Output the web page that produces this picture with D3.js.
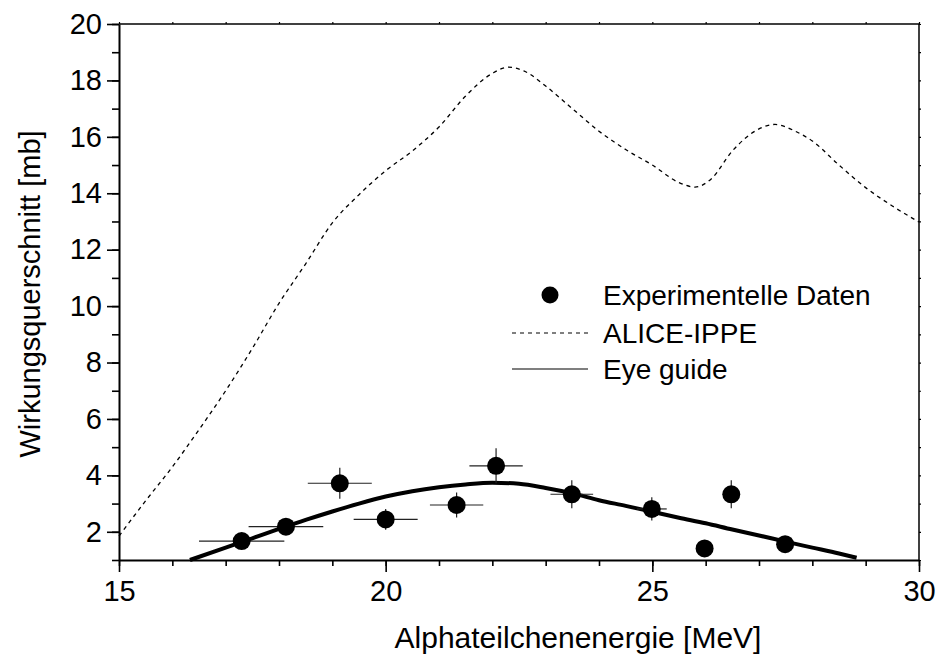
<!DOCTYPE html>
<html>
<head>
<meta charset="utf-8">
<script src="https://cdn.jsdelivr.net/npm/d3@7"></script>
<style>
  html, body { margin: 0; padding: 0; background: #fff; }
  svg { display: block; font-family: "Liberation Sans", Arial, sans-serif; }
</style>
</head>
<body>
<svg id="chart" width="936" height="658"></svg>
<script>
// Experimental cross sections (energy in MeV, cross section in mb, with errors)
const expEnergy = [17.30, 18.13, 19.14, 20.00, 21.33, 22.07, 23.49, 24.99, 25.98, 26.48, 27.49];
const expSigma  = [1.67, 2.18, 3.72, 2.44, 2.95, 4.34, 3.33, 2.81, 1.41, 3.33, 1.56];
const expErrX   = [0.80, 0.70, 0.60, 0.60, 0.50, 0.50, 0.40, 0.28, 0.10, 0.10, 0.15];
const expErrY   = [0.20, 0.20, 0.55, 0.37, 0.44, 0.62, 0.50, 0.41, 0.15, 0.50, 0.20];

// ALICE-IPPE model calculation
const aliceEnergy = [15.0, 15.5, 16.0, 16.5, 17.0, 17.5, 18.0, 18.5, 19.0, 19.5, 20.0, 20.5, 21.0, 21.5,
                     22.0, 22.3, 22.6, 23.0, 23.5, 24.0, 24.5, 25.0, 25.5, 25.8, 26.1, 26.5, 27.0, 27.3,
                     27.7, 28.0, 28.5, 29.0, 29.5, 30.0];
const aliceSigma  = [1.85, 3.10, 4.30, 5.62, 7.00, 8.50, 10.10, 11.50, 12.95, 13.95, 14.80, 15.50, 16.35, 17.45,
                     18.25, 18.47, 18.33, 17.80, 17.00, 16.20, 15.55, 15.00, 14.38, 14.22, 14.50, 15.50, 16.28, 16.44,
                     16.18, 15.85, 15.00, 14.20, 13.55, 12.98];

// Eye guide through the measured points
const guideEnergy = [16.33, 17.0, 17.5, 18.0, 18.5, 19.0, 19.5, 20.0, 20.5, 21.0, 21.5, 22.0, 22.5, 23.0,
                     23.5, 24.0, 24.5, 25.0, 25.5, 26.0, 26.5, 27.0, 27.5, 28.0, 28.5, 28.83];
const guideSigma  = [1.00, 1.44, 1.77, 2.10, 2.42, 2.72, 3.00, 3.25, 3.44, 3.58, 3.68, 3.74, 3.70, 3.55,
                     3.36, 3.12, 2.92, 2.71, 2.50, 2.30, 2.08, 1.87, 1.65, 1.44, 1.23, 1.08];

const xTicks = [15, 20, 25, 30];
const yTicks = [2, 4, 6, 8, 10, 12, 14, 16, 18, 20];
const legendLabels = ["Experimentelle Daten", "ALICE-IPPE", "Eye guide"];
const xTitle = "Alphateilchenenergie [MeV]";
const yTitle = "Wirkungsquerschnitt [mb]";

const FONT = "'Liberation Sans', Arial, sans-serif";
const svg = d3.select("#chart");
const L = 119, R = 919, T = 24, B = 560;

const x = d3.scaleLinear().domain([15, 30]).range([L, R]);
const y = d3.scaleLinear().domain([1, 20]).range([B, T]);

const minorX = d3.range(15, 31, 1);
const minorY = d3.range(1, 21, 1);

// Frame (top and right edges)
svg.append("line").attr("x1", L).attr("x2", R).attr("y1", T).attr("y2", T)
  .attr("stroke", "#000").attr("stroke-width", 1.5);
svg.append("line").attr("x1", R).attr("x2", R).attr("y1", T).attr("y2", B)
  .attr("stroke", "#000").attr("stroke-width", 1.5);

// Bottom axis: minor then major ticks
const gx = svg.append("g").attr("transform", `translate(0,${B})`)
  .call(d3.axisBottom(x).tickValues(minorX).tickSize(6).tickFormat(""));
gx.select(".domain").remove();
gx.selectAll("line").attr("stroke-width", 1.6);
const gxMaj = svg.append("g").attr("transform", `translate(0,${B})`)
  .call(d3.axisBottom(x).tickValues(xTicks).tickSize(12).tickSizeOuter(0).tickPadding(8).tickFormat(d3.format("d")));
gxMaj.select(".domain").attr("stroke-width", 2);
gxMaj.selectAll("line").attr("stroke-width", 1.6);
gxMaj.selectAll("text").attr("font-size", 29).attr("fill", "#000").attr("font-family", FONT);

// Left axis: minor then major ticks
const gy = svg.append("g").attr("transform", `translate(${L},0)`)
  .call(d3.axisLeft(y).tickValues(minorY).tickSize(7).tickFormat(""));
gy.select(".domain").remove();
gy.selectAll("line").attr("stroke-width", 1.6);
const gyMaj = svg.append("g").attr("transform", `translate(${L},0)`)
  .call(d3.axisLeft(y).tickValues(yTicks).tickSize(12).tickSizeOuter(0).tickPadding(5).tickFormat(d3.format("d")));
gyMaj.select(".domain").attr("stroke-width", 2);
gyMaj.selectAll("line").attr("stroke-width", 1.6);
gyMaj.selectAll("text").attr("font-size", 29).attr("fill", "#000").attr("font-family", FONT);

// Short outer ticks on top and right edges
svg.append("g").attr("transform", `translate(0,${T})`)
  .call(d3.axisTop(x).tickValues(minorX).tickSize(2).tickFormat(""))
  .call(g => g.select(".domain").remove())
  .selectAll("line").attr("stroke-width", 1.2);
svg.append("g").attr("transform", `translate(${R},0)`)
  .call(d3.axisRight(y).tickValues(minorY).tickSize(2).tickFormat(""))
  .call(g => g.select(".domain").remove())
  .selectAll("line").attr("stroke-width", 1.2);

// Axis titles
svg.append("text").attr("x", 578).attr("y", 648)
  .attr("text-anchor", "middle").attr("font-size", 30).attr("font-family", FONT).text(xTitle);
svg.append("text").attr("transform", `translate(40,294) rotate(-90)`)
  .attr("text-anchor", "middle").attr("font-size", 29).attr("font-family", FONT).text(yTitle);

// Curves
const aliceData = aliceEnergy.map((e, i) => [e, aliceSigma[i]]);
const guideData = guideEnergy.map((e, i) => [e, guideSigma[i]]);
const line = d3.line().x(d => x(d[0])).y(d => y(d[1])).curve(d3.curveMonotoneX);

svg.append("path").datum(aliceData).attr("d", line)
  .attr("fill", "none").attr("stroke", "#000").attr("stroke-width", 1.3)
  .attr("stroke-dasharray", "4,4");

svg.append("path").datum(guideData).attr("d", line)
  .attr("fill", "none").attr("stroke", "#000").attr("stroke-width", 4);

// Experimental points with error bars
const pts = expEnergy.map((e, i) => ({ e, s: expSigma[i], dx: expErrX[i], dy: expErrY[i] }));
const gp = svg.append("g");
gp.selectAll("line.ex").data(pts).join("line").attr("class", "ex")
  .attr("x1", d => x(d.e - d.dx)).attr("x2", d => x(d.e + d.dx))
  .attr("y1", d => y(d.s)).attr("y2", d => y(d.s))
  .attr("stroke", "#222").attr("stroke-width", 1.2);
gp.selectAll("line.ey").data(pts).join("line").attr("class", "ey")
  .attr("x1", d => x(d.e)).attr("x2", d => x(d.e))
  .attr("y1", d => y(d.s - d.dy)).attr("y2", d => y(d.s + d.dy))
  .attr("stroke", "#222").attr("stroke-width", 1.2);
gp.selectAll("circle").data(pts).join("circle")
  .attr("cx", d => x(d.e)).attr("cy", d => y(d.s)).attr("r", 9).attr("fill", "#000");

// Legend
const lg = svg.append("g");
const lx0 = 512, lx1 = 588, tx = 603;
const rows = [295, 333, 369];
lg.append("circle").attr("cx", (lx0 + lx1) / 2).attr("cy", rows[0]).attr("r", 8.5).attr("fill", "#000");
lg.append("line").attr("x1", lx0).attr("x2", lx1).attr("y1", rows[1]).attr("y2", rows[1])
  .attr("stroke", "#000").attr("stroke-width", 1.2).attr("stroke-dasharray", "4,4");
lg.append("line").attr("x1", lx0).attr("x2", lx1).attr("y1", rows[2]).attr("y2", rows[2])
  .attr("stroke", "#000").attr("stroke-width", 1.2);
lg.selectAll("text").data(legendLabels).join("text")
  .attr("x", tx).attr("y", (d, i) => rows[i]).attr("dy", "0.36em")
  .attr("font-size", 28).attr("font-family", FONT).text(d => d);
</script>
</body>
</html>
